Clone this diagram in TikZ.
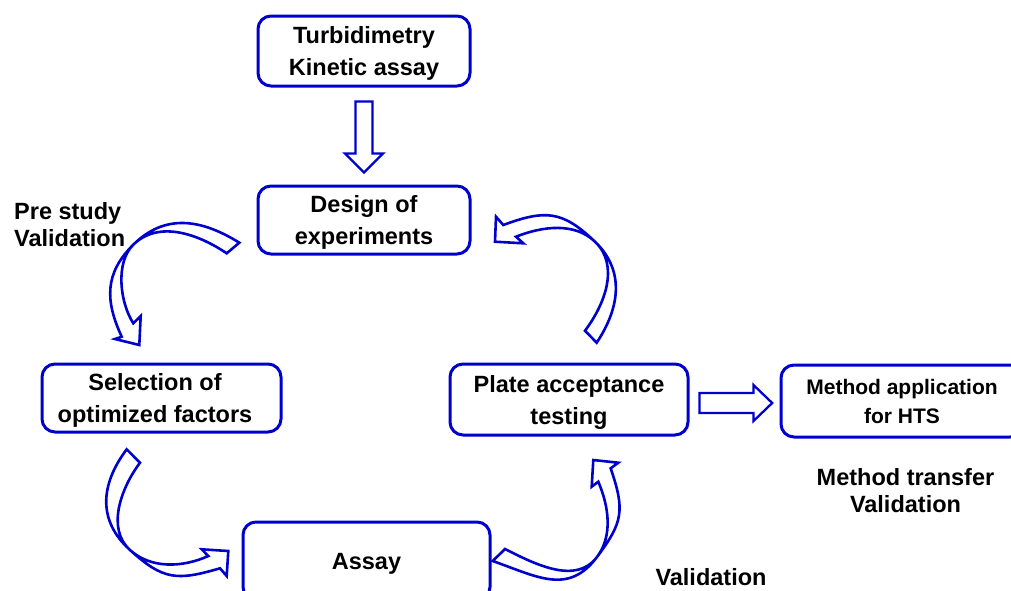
\documentclass[tikz,border=0pt]{standalone}
\usepackage{fontspec}
\setmainfont{Liberation Sans}
\usetikzlibrary{calc,positioning}
\definecolor{flowblue}{RGB}{0,0,205}

\begin{document}
\begin{tikzpicture}[x=1pt,y=1pt,yscale=-1,xscale=1]
  \useasboundingbox (0,0) rectangle (1011,590);
  \tikzstyle{box} = [draw=flowblue,line width=3pt,rounded corners=13pt,fill=white,align=center,inner sep=0pt,text depth=0pt,font=\fontsize{23.5}{32}\selectfont\bfseries]
  \tikzstyle{blockarrow} = [draw=flowblue,line width=2.3pt,fill=white]
  \tikzstyle{curvearrow} = [draw=flowblue,line width=2.6pt,fill=white]
  \tikzstyle{sidetext} = [inner sep=0pt,font=\fontsize{23.5}{27}\selectfont\bfseries]
  %Draw the boxes
  \node[box,minimum width=212pt,minimum height=70pt] (turb) at (364,51) {Turbidimetry\\Kinetic assay};
  \node[box,minimum width=212pt,minimum height=68pt] (doe) at (364,220) {Design of\\experiments};
  \node[box,minimum width=239pt,minimum height=68pt] (sel) at (161.5,398) {Selection of\hspace*{13pt}\\optimized factors\hspace*{13pt}};
  \node[box,minimum width=238pt,minimum height=71pt] (pat) at (569,399.5) {Plate acceptance\\testing};
  \node[box,minimum width=242pt,minimum height=72pt,font=\fontsize{21}{29}\selectfont\bfseries] (hts) at (902,401) {Method application\\for HTS};
  \node[box,minimum width=247pt,minimum height=78pt] (assay) at (366.5,561) {Assay};

  %Draw the straight arrows
  \draw[blockarrow] ($(turb.south)+(-8.5,14)$) -- ++(0,52) -- ++(-10.5,0) -- ++(19,19)
    -- ++(19,-19) -- ++(-10.5,0) -- ++(0,-52) -- cycle;
  \draw[blockarrow] ($(pat.east)+(10,-6.5)$) -- ++(54,0) -- ++(0,-8) -- ++(18.7,18)
    -- ++(-18.7,18) -- ++(0,-8) -- ++(-54,0) -- cycle;

  %Draw the curved arrows
  \draw[curvearrow] (239.3,242.7) .. controls (201,218.9) and (164.8,213.2) .. (133,245)
    .. controls (104.7,273.3) and (104.9,300.3) .. (121.7,336.7)
    -- (115,339) -- (139.3,345) -- (140.7,316) -- (133.3,323.3)
    .. controls (119.8,302.3) and (115.3,262.7) .. (133,245)
    .. controls (158,220) and (197.3,233.5) .. (226.7,253.3) -- cycle;
  \draw[curvearrow] (596.7,342.7) .. controls (619.8,307.8) and (625.2,270.7) .. (595,241.7)
    .. controls (562.6,210.7) and (545.6,209.3) .. (503.3,225)
    -- (496,216.7) -- (495,241.7) -- (523.3,243.3) -- (516,236.7)
    .. controls (542.4,226.2) and (574.6,222.1) .. (595,241.7)
    .. controls (619.5,265.2) and (605.4,303.5) .. (585,330.7) -- cycle;
  \draw[curvearrow] (126.7,449.3) .. controls (100.3,484.5) and (97.4,520.5) .. (130,550)
    .. controls (163.3,580.2) and (176.8,580.9) .. (220,568.3)
    -- (226.7,576) -- (228.3,551) -- (201.7,549.3) -- (208.3,556)
    .. controls (182.5,567.6) and (151,569) .. (130,550)
    .. controls (106.3,528.6) and (120.8,488.3) .. (140,462.7) -- cycle;
  \draw[curvearrow] (492.7,561) .. controls (537.8,576.8) and (568.2,595.4) .. (597,557)
    .. controls (623.4,521.8) and (624.8,510.1) .. (610.7,468.3)
    -- (618.3,462.7) -- (593.3,460) -- (591.7,486.7) -- (598.3,481.7)
    .. controls (608.8,506.4) and (613.1,535.5) .. (597,557)
    .. controls (576.1,584.8) and (536,564.7) .. (505,549) -- cycle;

  % Label the steps
  \node[sidetext,anchor=west,align=left] (pre) at (14,225) {Pre study\\Validation};
  \node[sidetext,align=center] (transfer) at (905.5,490.5) {Method transfer\\Validation};
  \node[sidetext] (valid) at (711,577) {Validation};
\end{tikzpicture}
\end{document}
